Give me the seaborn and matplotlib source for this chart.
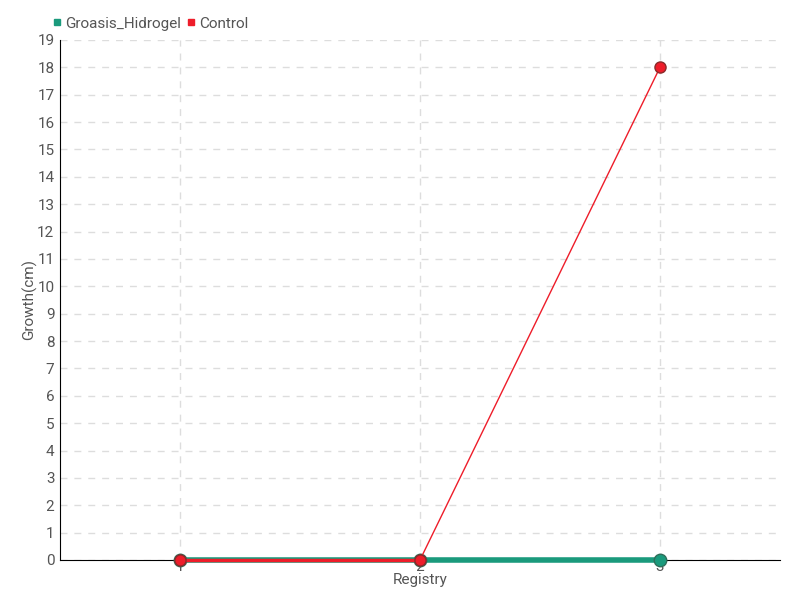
import pandas as pd
import numpy as np
import matplotlib
matplotlib.use("Agg")
import matplotlib.pyplot as plt
import seaborn as sns
from matplotlib.lines import Line2D

# Datos
registros = [1, 2, 3]
groasis_hidrogel = [0, 0, 0]
control = [0, 0, 18]

sns.set_style("white")
plt.rcParams['font.family'] = ['Roboto', 'DejaVu Sans']

df = pd.DataFrame({'Registry': registros * 2,
                   'Growth': groasis_hidrogel + control,
                   'Serie': ['Groasis_Hidrogel'] * 3 + ['Control'] * 3})

verde = '#1a9a7c'
rojo = '#ee1d2a'

fig = plt.figure(figsize=(8, 6), dpi=100)
ax = fig.add_axes([0.075, 0.0667, 0.9, 0.8667])

sns.lineplot(x='Registry', y='Growth', data=df[df['Serie'] == 'Groasis_Hidrogel'],
             color=verde, linewidth=4, marker='o', markersize=9,
             markeredgecolor='#2f6e5a', markeredgewidth=1, ax=ax, zorder=3,
             clip_on=False)
sns.lineplot(x='Registry', y='Growth', data=df[df['Serie'] == 'Control'],
             color=rojo, linewidth=1, marker='o', markersize=8,
             markeredgecolor='#8a2a2a', markeredgewidth=1, ax=ax, zorder=4,
             clip_on=False)
# segmento 1-2 del control un poco mas grueso sobre el verde
ax.plot(registros[:2], control[:2], color=rojo, linewidth=2.5, zorder=3.5,
        clip_on=False)

ax.set_xlim(0.5, 3.5)
ax.set_ylim(0, 19)
ax.set_xticks(registros)
ax.set_yticks(range(0, 20))
ax.grid(True, color='#dddddd', linestyle=(0, (5, 5)), linewidth=1)
ax.set_axisbelow(True)

for s in ['top', 'right']:
    ax.spines[s].set_visible(False)
ax.spines['left'].set_color('black')
ax.spines['bottom'].set_color('black')
ax.spines['left'].set_zorder(2)
ax.spines['bottom'].set_zorder(2)

gris = '#555555'
ax.tick_params(axis='both', colors=gris, labelsize=11, length=4, width=1,
               direction='inout')
ax.tick_params(axis='x', pad=-2)
ax.tick_params(axis='y', pad=2)
ax.set_xlabel('Registry', color=gris, fontsize=11, labelpad=-1)
ax.set_ylabel('Growth(cm)', color=gris, fontsize=11, va='center')
ax.yaxis.set_label_coords(-0.042, 0.5)

handles = [Line2D([], [], marker='s', color=verde, linestyle='None', markersize=5),
           Line2D([], [], marker='s', color=rojo, linestyle='None', markersize=5)]
leg = ax.legend(handles, ['Groasis_Hidrogel', 'Control'], loc='lower left',
                bbox_to_anchor=(-0.025, 1.0), ncol=2, frameon=False,
                handletextpad=0.1, columnspacing=0.3, handlelength=0.8,
                fontsize=11, borderaxespad=0.2)
for t in leg.get_texts():
    t.set_color(gris)

plt.savefig('out.png', dpi=100)
